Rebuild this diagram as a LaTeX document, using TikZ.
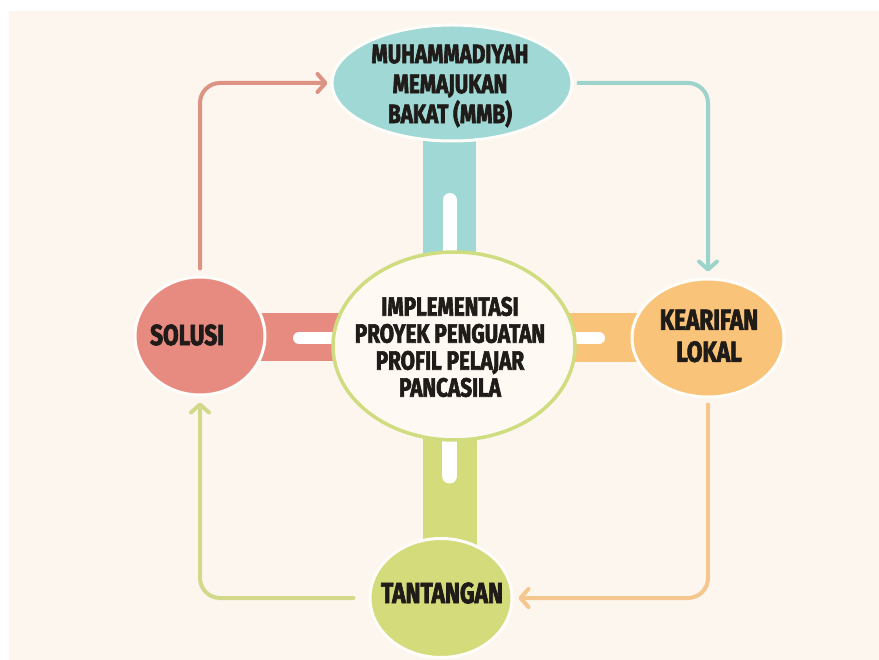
\documentclass[tikz,border=0pt]{standalone}
\usepackage{fontspec}
\usetikzlibrary{shapes.geometric,arrows.meta}
\newfontfamily\hfont{Fira Sans}[FakeStretch=0.78,BoldFeatures={FakeBold=2.4}]
\definecolor{bgc}{HTML}{FDF6EE}
\definecolor{tealf}{HTML}{9FD8D5}
\definecolor{teall}{HTML}{9CD3CB}
\definecolor{pinkf}{HTML}{E78B81}
\definecolor{pinkl}{HTML}{DD9383}
\definecolor{orangef}{HTML}{F9C479}
\definecolor{orangel}{HTML}{F5C78E}
\definecolor{greenf}{HTML}{D4DB7B}
\definecolor{greenl}{HTML}{D2D98A}
\definecolor{centerl}{HTML}{CFDC7F}
\definecolor{centerf}{HTML}{FEFAF3}
\definecolor{txt}{HTML}{1F1B18}
\definecolor{halo}{HTML}{FFFDF9}
\tikzset{
  blob/.style={ellipse, inner sep=0pt, draw=halo, line width=3pt},
  label/.style={inner sep=0pt, align=center, text=txt, font=\hfont\bfseries\fontsize{#1}{#1}\selectfont},
  flow/.style={line width=4pt, rounded corners=20pt, line cap=round,
     -{Straight Barb[length=8pt,width=18pt,round]}},
  slot/.style={white, line width=#1, line cap=round}
}
\begin{document}
\begin{tikzpicture}[x=1pt,y=-1pt]
\useasboundingbox (0,0) rectangle (879,660);
\fill[white] (0,0) rectangle (879,660);
\fill[bgc] (9,11) rectangle (879,660);

% stems and bars (behind)
\fill[tealf] (423,130) rectangle (476,265);
\draw[slot=14pt] (450,200) -- (450,265);
\fill[pinkf] (250,313) rectangle (345,361);
\draw[slot=12pt] (299,338) -- (345,338);
\fill[orangef] (560,313) rectangle (650,362);
\draw[slot=12pt] (560,338) -- (599,338);
\fill[greenf] (423,425) rectangle (477,548);
\draw[slot=15pt] (449.5,425) -- (449.5,476);

% nodes
\node[blob, fill=tealf, minimum width=240pt, minimum height=116pt] (mmb) at (452,83) {};
\node[ellipse, inner sep=0pt, draw=centerl, line width=3.5pt, fill=centerf,
      minimum width=242pt, minimum height=188pt] (ppp) at (454,346) {};
\node[blob, fill=pinkf, minimum width=130pt, minimum height=118pt] (sol) at (200,336) {};
\node[blob, fill=orangef, minimum width=152pt, minimum height=118pt] (kl) at (708,338) {};
\node[blob, fill=greenf, minimum width=142pt, minimum height=119pt] (tan) at (441,598) {};

% texts
\node[label=26, font=\hfont\bfseries\fontsize{26.5}{30}\selectfont] (tmmb) at (450,86) {MUHAMMADIYAH\\MEMAJUKAN\\BAKAT (MMB)};
\node[label=26, font=\hfont\bfseries\fontsize{26.5}{27}\selectfont] (tppp) at (450,347) {IMPLEMENTASI\\PROYEK PENGUATAN\\PROFIL PELAJAR\\PANCASILA};
\node[label=29] (tsol) at (187,335) {SOLUSI};
\node[label=29, font=\hfont\bfseries\fontsize{29}{32}\selectfont] (tkl) at (709,336) {KEARIFAN\\LOKAL};
\node[label=29] (ttan) at (442,593) {TANTANGAN};

% connectors
\draw[flow, pinkl] ([yshift=7pt]sol.north) |- ([xshift=-3pt]mmb.west);
\draw[flow, teall] ([xshift=5pt]mmb.east) -| ([yshift=6pt]kl.north);
\draw[flow, orangel] ([yshift=-6pt]kl.south) |- ([xshift=5pt]tan.east);
\draw[flow, greenl] ([xshift=-15pt]tan.west) -| ([yshift=-6pt]sol.south);
\end{tikzpicture}
\end{document}
